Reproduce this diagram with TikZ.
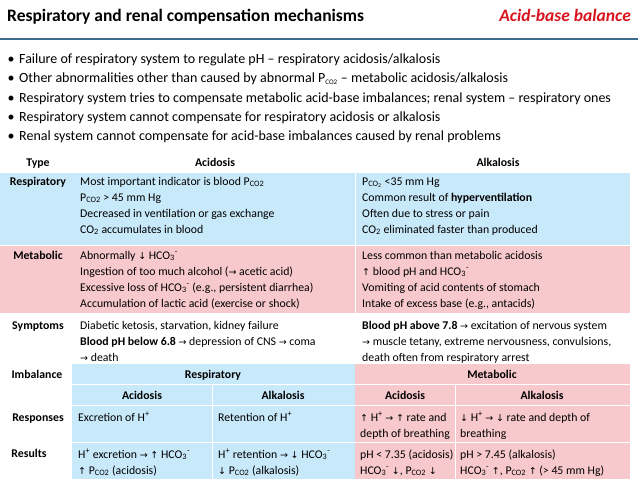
\documentclass[tikz,border=0pt]{standalone}
\usepackage{fontspec}
\setmainfont{Carlito}
\newfontfamily\symf{DejaVu Sans}
\newcommand\ua{{\symf\fontsize{9.5}{10}\selectfont ↑}}
\newcommand\da{{\symf\fontsize{9.5}{10}\selectfont ↓}}
\newcommand\ra{{\symf\fontsize{9.5}{10}\selectfont →}}
\newcommand\pco{P\textsubscript{CO2}}
\newcommand\hco{HCO\textsubscript{3}\textsuperscript{-}}
\definecolor{bl}{HTML}{C8E9FA}
\definecolor{pk}{HTML}{F8C9CC}
\definecolor{rule}{HTML}{3E6C8C}
\definecolor{ttl}{HTML}{D9141E}
\begin{document}
\begin{tikzpicture}[x=1pt,y=-1pt,
  t/.style={anchor=base west,inner sep=0pt,font=\fontsize{11.8}{13}\selectfont},
  h/.style={anchor=base,inner sep=0pt,font=\fontsize{11.8}{13}\selectfont\bfseries},
  lb/.style={anchor=base,inner sep=0pt,font=\fontsize{11.8}{13}\selectfont\bfseries},
  bu/.style={anchor=base west,inner sep=0pt,font=\fontsize{14}{16}\selectfont}]
\useasboundingbox (0,0) rectangle (638,479);
\fill[white] (0,0) rectangle (638,479);
% title
\node[anchor=base west,inner sep=0pt,font=\fontsize{17.5}{20}\selectfont\bfseries] (title) at (7,21) {Respiratory and renal compensation mechanisms};
\node[anchor=base east,inner sep=0pt,font=\fontsize{17.5}{20}\selectfont\bfseries\itshape,text=ttl] (tag) at (631,21) {Acid-base balance};
\draw[rule,line width=2pt] (0,39) -- (638,39);
% bullets
\foreach \yy/\tx [count=\i] in {
 63/{Failure of respiratory system to regulate pH -- respiratory acidosis/alkalosis},
 82/{Other abnormalities other than caused by abnormal P\textsubscript{\fontsize{7}{7}\selectfont CO2} -- metabolic acidosis/alkalosis},
 102/{Respiratory system tries to compensate metabolic acid-base imbalances; renal system -- respiratory ones},
 121/{Respiratory system cannot compensate for respiratory acidosis or alkalosis},
 140/{Renal system cannot compensate for acid-base imbalances caused by renal problems}}
 {\node[bu] (b\i) at (19,\yy) {\tx};
  \node[bu,anchor=base] (d\i) at (11,\yy) {\textbullet};}
% header
\node[h] (hType) at (38,166) {Type};
\node[h] (hAc) at (215,166) {Acidosis};
\node[h] (hAl) at (498,166) {Alkalosis};
% backgrounds
\fill[bl] (0,173) rectangle (630,245);
\fill[pk] (0,246) rectangle (630,313);
\fill[bl] (72,364) rectangle (355,479);
\fill[pk] (355,364) rectangle (630,479);
\draw[white,line width=0.8pt] (72,384) -- (630,384) (72,405) -- (630,405) (72,442) -- (630,442);
\draw[white,line width=0.8pt] (212,384) -- (212,479) (455,384) -- (455,479) (355,173)--(355,313);
% respiratory
\node[lb] (lR) at (38,185) {Respiratory};
\node[t] (r1) at (80,185) {Most important indicator is blood \pco};
\node[t] (r2) at (80,201) {\pco\ > 45 mm Hg};
\node[t] (r3) at (80,217) {Decreased in ventilation or gas exchange};
\node[t] (r4) at (80,233) {CO\textsubscript{2} accumulates in blood};
\node[t] (s1) at (362,185) {P\textsubscript{CO\textsubscript{2}} <35 mm Hg};
\node[t] (s2) at (362,201) {Common result of \textbf{hyperventilation}};
\node[t] (s3) at (362,217) {Often due to stress or pain};
\node[t] (s4) at (362,233) {CO\textsubscript{2} eliminated faster than produced};
% metabolic
\node[lb] (lM) at (38,259) {Metabolic};
\node[t] (m1) at (80,259) {Abnormally \da\ \hco};
\node[t] (m2) at (80,275) {Ingestion of too much alcohol (\ra\ acetic acid)};
\node[t] (m3) at (80,291) {Excessive loss of \hco\ (e.g., persistent diarrhea)};
\node[t] (m4) at (80,307) {Accumulation of lactic acid (exercise or shock)};
\node[t] (n1) at (362,259) {Less common than metabolic acidosis};
\node[t] (n2) at (362,275) {\ua\ blood pH and \hco};
\node[t] (n3) at (362,291) {Vomiting of acid contents of stomach};
\node[t] (n4) at (362,307) {Intake of excess base (e.g., antacids)};
% symptoms
\node[lb] (lS) at (38,329) {Symptoms};
\node[t] (y1) at (80,329) {Diabetic ketosis, starvation, kidney failure};
\node[t] (y2) at (80,345) {\textbf{Blood pH below 6.8} \ra\ depression of CNS \ra\ coma};
\node[t] (y3) at (80,361) {\ra\ death};
\node[t] (z1) at (362,329) {\textbf{Blood pH above 7.8} \ra\ excitation of nervous system};
\node[t] (z2) at (362,345) {\ra\ muscle tetany, extreme nervousness, convulsions,};
\node[t] (z3) at (362,361) {death often from respiratory arrest};
% imbalance
\node[lb] (lI) at (37,378) {Imbalance};
\node[h] (iR) at (213,378) {Respiratory};
\node[h] (iM) at (492,378) {Metabolic};
\node[h] (a1) at (142,399) {Acidosis};
\node[h] (a2) at (283,399) {Alkalosis};
\node[h] (a3) at (405,399) {Acidosis};
\node[h] (a4) at (542,399) {Alkalosis};
% responses
\node[lb] (lP) at (38,421) {Responses};
\node[t] (p1) at (78,421) {Excretion of H\textsuperscript{+}};
\node[t] (p2) at (218,421) {Retention of H\textsuperscript{+}};
\node[t] (p3) at (360,421) {\ua\ H\textsuperscript{+} \ra\ \ua\ rate and};
\node[t] (p3b) at (360,437) {depth of breathing};
\node[t] (p4) at (460,421) {\da\ H\textsuperscript{+} \ra\ \da\ rate and depth of};
\node[t] (p4b) at (460,437) {breathing};
% results
\node[lb] (lQ) at (29,457) {Results};
\node[t] (q1) at (78,458) {H\textsuperscript{+} excretion \ra\ \ua\ HCO\textsubscript{3}\textsuperscript{-}};
\node[t] (q1b) at (78,474) {\ua\ \pco\ (acidosis)};
\node[t] (q2) at (218,458) {H\textsuperscript{+} retention \ra\ \da\ HCO\textsubscript{3}\textsuperscript{-}};
\node[t] (q2b) at (218,474) {\da\ \pco\ (alkalosis)};
\node[t] (q3) at (360,458) {pH < 7.35 (acidosis)};
\node[t] (q3b) at (360,474) {HCO\textsubscript{3}\textsuperscript{-} \da, \pco\ \da};
\node[t] (q4) at (460,458) {pH > 7.45 (alkalosis)};
\node[t] (q4b) at (460,474) {HCO\textsubscript{3}\textsuperscript{-} \ua, \pco\ \ua\ (> 45 mm Hg)};
\end{tikzpicture}
\end{document}
